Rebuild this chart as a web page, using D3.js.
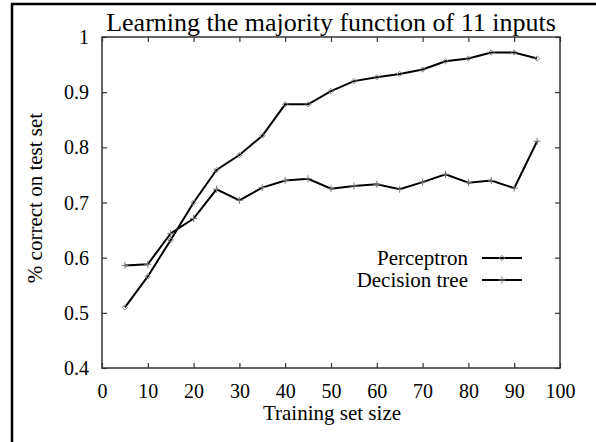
<!DOCTYPE html>
<html>
<head>
<meta charset="utf-8">
<script src="https://cdn.jsdelivr.net/npm/d3@7"></script>
<style>
  body { margin: 0; background: #fff; }
  svg { display: block; }
  svg text { font-family: "Liberation Serif", "Times New Roman", serif; }
</style>
</head>
<body>
<div id="chart"></div>
<script>
  // training set sizes
  var sizes = [5, 10, 15, 20, 25, 30, 35, 40, 45, 50, 55, 60, 65, 70, 75, 80, 85, 90, 95];
  var perceptron = [0.510, 0.566, 0.632, 0.700, 0.759, 0.786, 0.821, 0.878, 0.878, 0.902,
                    0.920, 0.927, 0.933, 0.941, 0.956, 0.961, 0.972, 0.972, 0.961];
  var decisionTree = [0.586, 0.588, 0.644, 0.671, 0.724, 0.704, 0.727, 0.740, 0.743, 0.725,
                      0.730, 0.733, 0.724, 0.737, 0.751, 0.736, 0.740, 0.726, 0.811];
  var xTicks = [0, 10, 20, 30, 40, 50, 60, 70, 80, 90, 100];
  var yTicks = [0.4, 0.5, 0.6, 0.7, 0.8, 0.9, 1];
  var seriesNames = ["Perceptron", "Decision tree"];

  var width = 596, height = 442;
  var plotL = 102, plotR = 560, plotT = 37, plotB = 368;

  var svg = d3.select("#chart").append("svg")
    .attr("width", width)
    .attr("height", height);

  // outer frame, runs off the right and bottom edges
  svg.append("rect")
    .attr("x", 12).attr("y", 4)
    .attr("width", 700).attr("height", 600)
    .attr("fill", "none")
    .attr("stroke", "#000")
    .attr("stroke-width", 2.5);

  var x = d3.scaleLinear().domain([0, 100]).range([plotL, plotR]);
  var y = d3.scaleLinear().domain([0.4, 1]).range([plotB, plotT]);

  var tickLen = 5;
  var axisColor = "#333";

  // bottom axis with labels
  var gx = svg.append("g")
    .attr("transform", "translate(0," + plotB + ")")
    .call(d3.axisBottom(x).tickValues(xTicks).tickSizeInner(-tickLen).tickSizeOuter(0).tickPadding(16).tickFormat(d3.format("d")));
  // left axis with labels
  var gy = svg.append("g")
    .attr("transform", "translate(" + plotL + ",0)")
    .call(d3.axisLeft(y).tickValues(yTicks).tickSizeInner(-tickLen).tickSizeOuter(0).tickPadding(13).tickFormat(function(d) { return d === 1 ? "1" : d3.format(".1f")(d); }));
  // mirrored ticks top and right
  var gt = svg.append("g")
    .attr("transform", "translate(0," + plotT + ")")
    .call(d3.axisTop(x).tickValues(xTicks).tickSizeInner(-tickLen).tickSizeOuter(0).tickFormat(""));
  var gr = svg.append("g")
    .attr("transform", "translate(" + plotR + ",0)")
    .call(d3.axisRight(y).tickValues(yTicks).tickSizeInner(-tickLen).tickSizeOuter(0).tickFormat(""));

  [gx, gy, gt, gr].forEach(function(g) {
    g.select(".domain").remove();
    g.attr("font-family", null).attr("font-size", null);
    g.selectAll("line").attr("stroke", axisColor).attr("stroke-width", 1.2);
    g.selectAll("text")
      .attr("fill", "#000")
      .style("font-size", "20px");
  });
  gy.selectAll("text").attr("dy", "0.33em");

  svg.append("rect")
    .attr("x", plotL).attr("y", plotT)
    .attr("width", plotR - plotL).attr("height", plotB - plotT)
    .attr("fill", "none")
    .attr("stroke", axisColor)
    .attr("stroke-width", 1.5);

  // title and axis labels
  svg.append("text")
    .attr("x", (plotL + plotR) / 2).attr("y", 31)
    .attr("text-anchor", "middle")
    .style("font-size", "26px")
    .text("Learning the majority function of 11 inputs");

  svg.append("text")
    .attr("x", 332).attr("y", 420)
    .attr("text-anchor", "middle")
    .style("font-size", "21px")
    .text("Training set size");

  svg.append("text")
    .attr("transform", "translate(42,198) rotate(-90)")
    .attr("text-anchor", "middle")
    .style("font-size", "21px")
    .text("% correct on test set");

  var line = d3.line()
    .x(function(d) { return x(d[0]); })
    .y(function(d) { return y(d[1]); });

  var pData = sizes.map(function(s, i) { return [s, perceptron[i]]; });
  var dData = sizes.map(function(s, i) { return [s, decisionTree[i]]; });

  [pData, dData].forEach(function(data) {
    svg.append("path")
      .datum(data)
      .attr("d", line)
      .attr("fill", "none")
      .attr("stroke", "#000")
      .attr("stroke-width", 2);
  });

  var diamond = d3.symbol().type(d3.symbolDiamond2).size(18);

  function drawDiamond(px, py) {
    svg.append("path")
      .attr("d", diamond())
      .attr("transform", "translate(" + px + "," + py + ")")
      .attr("fill", "none")
      .attr("stroke", "#888")
      .attr("stroke-width", 1);
  }
  function drawPlus(px, py) {
    svg.append("path")
      .attr("d", "M-3.5,0H3.5M0,-3.5V3.5")
      .attr("transform", "translate(" + px + "," + py + ")")
      .attr("stroke", "#777")
      .attr("stroke-width", 1);
  }

  pData.forEach(function(d) { drawDiamond(x(d[0]), y(d[1])); });
  dData.forEach(function(d) { drawPlus(x(d[0]), y(d[1])); });

  // legend
  var legendY = [258, 280];
  seriesNames.forEach(function(name, i) {
    svg.append("text")
      .attr("x", 468).attr("y", legendY[i])
      .attr("dy", "0.33em")
      .attr("text-anchor", "end")
      .style("font-size", "21px")
      .text(name);
    svg.append("line")
      .attr("x1", 482).attr("x2", 522)
      .attr("y1", legendY[i]).attr("y2", legendY[i])
      .attr("stroke", "#000")
      .attr("stroke-width", 2);
    if (i === 0) drawDiamond(502, legendY[i]);
    else drawPlus(502, legendY[i]);
  });
</script>
</body>
</html>
